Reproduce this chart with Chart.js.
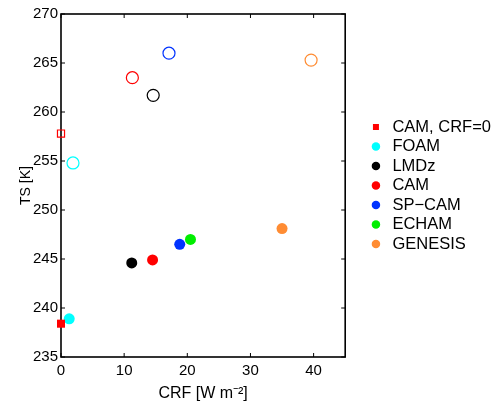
<!DOCTYPE html>
<html>
<head>
<meta charset="utf-8">
<script src="https://cdn.jsdelivr.net/npm/chart.js@4.4.0/dist/chart.umd.min.js"></script>
<style>
  html, body { margin: 0; padding: 0; background: #fff; }
  #wrap { width: 492px; height: 405px; }
</style>
</head>
<body>
<div id="wrap"><canvas id="chart"></canvas></div>
<script>
// ── Data ─────────────────────────────────────────────────────
const models    = ["CAM, CRF=0", "FOAM", "LMDz", "CAM", "SP\u2212CAM", "ECHAM", "GENESIS"];
const colors    = ["#ff0000", "#00ffff", "#000000", "#ff0000", "#0033ff", "#00ee00", "#ff8c33"];
const crfFilled = [0, 1.3, 11.2, 14.5, 18.8, 20.5, 35.0];
const tsFilled  = [238.4, 238.9, 244.6, 244.9, 246.5, 247.0, 248.1];
const crfOpen   = [0, 1.9, 14.6, 11.3, 17.1, null, 39.6];
const tsOpen    = [257.8, 254.8, 261.7, 263.5, 266.0, null, 265.3];
const xTicks    = [0, 10, 20, 30, 40];
const yTicks    = [235, 240, 245, 250, 255, 260, 265, 270];

Chart.defaults.font.family = "'Liberation Sans', Arial, Helvetica, sans-serif";
Chart.defaults.color = "#000";

// ── Datasets ─────────────────────────────────────────────────
const filledSets = models.map((name, i) => ({
  label: name,
  data: [{ x: crfFilled[i], y: tsFilled[i] }],
  pointStyle: i === 0 ? "rect" : "circle",
  pointRadius: i === 0 ? 5.7 : 5.5,
  backgroundColor: colors[i],
  borderColor: colors[i],
  borderWidth: 0,
  clip: false
}));

const openSets = models.map((name, i) => ({
  label: "",
  data: crfOpen[i] === null ? [] : [{ x: crfOpen[i], y: tsOpen[i] }],
  pointStyle: i === 0 ? "rect" : "circle",
  pointRadius: i === 0 ? 5 : 6,
  backgroundColor: "rgba(0,0,0,0)",
  borderColor: colors[i],
  borderWidth: 1.2,
  clip: false
}));

// ── Box frame with inward ticks (MATLAB look) ────────────────
const boxTicks = {
  id: "boxTicks",
  beforeDatasetsDraw(chart) {
    const { ctx, chartArea: a, scales: { x, y } } = chart;
    const len = 4;
    ctx.save();
    ctx.strokeStyle = "#000";
    ctx.lineWidth = 1;
    ctx.beginPath();
    xTicks.forEach(v => {
      const px = x.getPixelForValue(v);
      ctx.moveTo(px, a.bottom); ctx.lineTo(px, a.bottom - len);
      ctx.moveTo(px, a.top);    ctx.lineTo(px, a.top + len);
    });
    yTicks.forEach(v => {
      const py = y.getPixelForValue(v);
      ctx.moveTo(a.left, py);  ctx.lineTo(a.left + len, py);
      ctx.moveTo(a.right, py); ctx.lineTo(a.right - len, py);
    });
    ctx.stroke();
    ctx.lineWidth = 1.6;
    ctx.strokeRect(a.left, a.top, a.right - a.left, a.bottom - a.top);
    ctx.restore();
  }
};

new Chart(document.getElementById("chart"), {
  type: "scatter",
  data: { datasets: [...filledSets, ...openSets] },
  options: {
    responsive: true,
    maintainAspectRatio: false,
    animation: false,
    layout: { padding: { top: 14, right: -9, left: 0, bottom: 0 } },
    plugins: {
      tooltip: { enabled: false },
      legend: {
        position: "right",
        align: "center",
        fullSize: false,
        maxWidth: 220,
        labels: {
          filter: item => item.datasetIndex < models.length,
          usePointStyle: true,
          boxHeight: 6,
          padding: 3,
          color: "#000",
          font: { size: 16.5 }
        }
      }
    },
    scales: {
      x: {
        type: "linear",
        min: 0, max: 45,
        afterBuildTicks: s => { s.ticks = xTicks.map(v => ({ value: v })); },
        afterFit: s => { s.height = 48; },
        grid: { display: false, drawTicks: false },
        border: { display: false },
        ticks: { padding: 5, font: { size: 15 }, color: "#000" },
        title: {
          display: true,
          text: "CRF [W m\u207B\u00B2]",
          font: { size: 16 },
          color: "#000",
          padding: { top: 0, bottom: 2 }
        }
      },
      y: {
        type: "linear",
        min: 235, max: 270,
        afterBuildTicks: s => { s.ticks = yTicks.map(v => ({ value: v })); },
        afterFit: s => { s.width = 61; },
        grid: { display: false, drawTicks: false },
        border: { display: false },
        ticks: { padding: 3, font: { size: 15 }, color: "#000" },
        title: {
          display: true,
          text: "TS [K]",
          font: { size: 14 },
          color: "#000",
          padding: { top: 18, bottom: 0 }
        }
      },
      // empty spacer between plot box and legend
      gap: {
        type: "linear",
        position: "right",
        min: 0, max: 1,
        grid: { display: false, drawTicks: false },
        border: { display: false },
        ticks: { display: false },
        afterFit: s => { s.width = 19.5; }
      }
    }
  },
  plugins: [boxTicks]
});
</script>
</body>
</html>
